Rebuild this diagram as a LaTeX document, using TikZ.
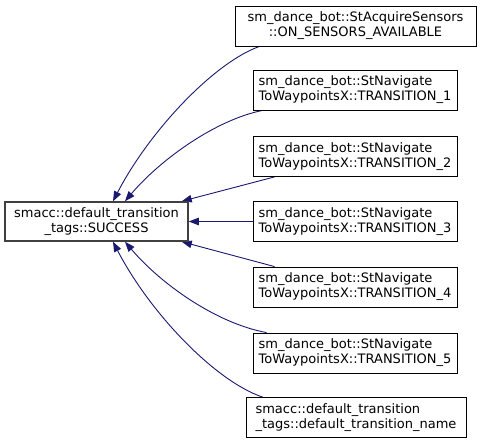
\documentclass[tikz,border=0pt]{standalone}
\usepackage{fontspec}
\setmainfont{DejaVu Sans}
\usetikzlibrary{arrows.meta}
\pgfdeclarelayer{edgelayer}
\pgfdeclarelayer{nodelayer}
\pgfsetlayers{edgelayer,nodelayer,main}
\definecolor{edgeblue}{HTML}{191970}
\definecolor{rootgray}{HTML}{404040}
\tikzstyle{edge}=[draw=edgeblue, line width=0.9pt, -{Triangle[length=10pt,width=7.5pt]}]
\tikzstyle{cls}=[rectangle, draw=black, fill=white, line width=0.8pt, inner sep=0pt, minimum height=40pt, font=\fontsize{13}{15}\selectfont]
\tikzstyle{root}=[cls, draw=rootgray, line width=1.5pt, minimum height=39pt]

\begin{document}
\begin{tikzpicture}[x=1pt, y=-1pt]
				\useasboundingbox (0, 0) rectangle (480, 444);
				\begin{pgfonlayer}{nodelayer}
					\node [style=root, minimum width=183pt, align=center] (0) at (96.5, 221.5) {smacc::default\_transition\\\_tags::SUCCESS};
					\node [style=cls, minimum width=241pt, align=center] (1) at (355.5, 26) {sm\_dance\_bot::StAcquireSensors\\::ON\_SENSORS\_AVAILABLE};
					\node [style=cls, minimum width=204pt, align=left] (2) at (355, 90) {sm\_dance\_bot::StNavigate\\ToWaypointsX::TRANSITION\_1};
					\node [style=cls, minimum width=204pt, align=left] (3) at (355, 156.5) {sm\_dance\_bot::StNavigate\\ToWaypointsX::TRANSITION\_2};
					\node [style=cls, minimum width=204pt, align=left] (4) at (355, 221.5) {sm\_dance\_bot::StNavigate\\ToWaypointsX::TRANSITION\_3};
					\node [style=cls, minimum width=204pt, align=left] (5) at (355, 287) {sm\_dance\_bot::StNavigate\\ToWaypointsX::TRANSITION\_4};
					\node [style=cls, minimum width=204pt, align=left] (6) at (355, 353) {sm\_dance\_bot::StNavigate\\ToWaypointsX::TRANSITION\_5};
					\node [style=cls, minimum width=220pt, align=left] (7) at (356, 417.5) {smacc::default\_transition\\\_tags::default\_transition\_name};
				\end{pgfonlayer}
				\begin{pgfonlayer}{edgelayer}
					\draw [style=edge] ([xshift=25pt]1.south west) .. controls (215, 62) and (150, 130) .. ([xshift=16.5pt]0.north);
					\draw [style=edge] ([xshift=10pt]2.south west) .. controls (215, 120) and (160, 160) .. ([xshift=28.5pt]0.north);
					\draw [style=edge] ([xshift=22pt]3.south west) to ([xshift=-7pt]0.north east);
					\draw [style=edge] (4.west) to (0.east);
					\draw [style=edge] ([xshift=22pt]5.north west) to ([xshift=-7pt]0.south east);
					\draw [style=edge] ([xshift=14pt]6.north west) .. controls (215, 323) and (160, 283) .. ([xshift=28.5pt]0.south);
					\draw [style=edge] ([xshift=17pt]7.north west) .. controls (215, 381) and (150, 313) .. ([xshift=16.5pt]0.south);
				\end{pgfonlayer}
			\end{tikzpicture}
\end{document}
